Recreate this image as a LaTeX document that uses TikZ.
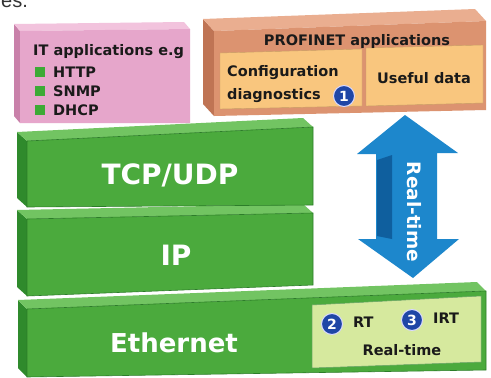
\documentclass[tikz,border=0pt]{standalone}
\usepackage{fontspec}
\setmainfont{DejaVu Sans}
\newfontfamily\capfont{Liberation Sans}
\usetikzlibrary{calc}
\definecolor{gfront}{HTML}{4BAA3D}
\definecolor{gtop}{HTML}{72C462}
\definecolor{gside}{HTML}{2F8A2C}
\definecolor{gedge}{HTML}{2C7D29}
\definecolor{subfill}{HTML}{D6E99E}
\definecolor{pfront}{HTML}{E6A6CB}
\definecolor{ptop}{HTML}{F2C3DD}
\definecolor{pside}{HTML}{C981AA}
\definecolor{ofront}{HTML}{DC9370}
\definecolor{otop}{HTML}{EAAE90}
\definecolor{oside}{HTML}{BF7454}
\definecolor{oinner}{HTML}{F9C67E}
\definecolor{ablue}{HTML}{1D87CC}
\definecolor{adark}{HTML}{0F5F9E}
\definecolor{numblue}{HTML}{1F46A6}
\definecolor{bulgreen}{HTML}{3DAA35}
\definecolor{txt}{HTML}{1A1A1A}
\newcommand\mkslab[5]{%
  \fill[#4] (#1tl) -- ($(#1tl)+(#5)$) -- ($(#1bl)+(#5)$) -- (#1bl) -- cycle;
  \fill[#3] (#1tl) -- ($(#1tl)+(#5)$) -- ($(#1tr)+(#5)$) -- (#1tr) -- cycle;
  \fill[#2] (#1tl) -- (#1tr) -- (#1br) -- (#1bl) -- cycle;
}
\tikzset{
  lbl/.style={font=\bfseries\fontsize{14.5}{17}\selectfont, text=txt, inner sep=0pt},
  big/.style={font=\bfseries\fontsize{28}{32}\selectfont, text=white, inner sep=0pt},
  num/.style={circle, fill=numblue, draw=white!85!blue, line width=1pt, minimum size=21pt,
    inner sep=0pt, text=white, font=\bfseries\fontsize{14}{14}\selectfont},
  bullet/.style={fill=bulgreen, minimum size=10pt, inner sep=0pt},
  inner box/.style={fill=#1, draw=#1!80!black, line width=0.4pt}
}
\begin{document}
\begin{tikzpicture}[x=1pt,y=-1pt]
\useasboundingbox (0,0) rectangle (491,378);
\fill[white] (0,0) rectangle (491,378);
\begin{scope}
  \clip (0,0) rectangle (491,378);
  \node[anchor=base west, inner sep=0pt, font=\capfont\fontsize{20}{20}\selectfont, text=black!80] (frag) at (1,7) {es.};
\end{scope}

% ---- pink box
\coordinate (ptl) at (20,31); \coordinate (ptr) at (190,29);
\coordinate (pbr) at (190,123); \coordinate (pbl) at (20,123);
\mkslab{p}{pfront}{ptop}{pside}{-6,-7}

% ---- orange box
\coordinate (otl) at (214,31); \coordinate (otr) at (486,21);
\coordinate (obr) at (486,110); \coordinate (obl) at (214,116);
\mkslab{o}{ofront}{otop}{oside}{-11,-12}
\filldraw[inner box=oinner] (220,53) -- (362,49) -- (362,106) -- (220,109) -- cycle;
\filldraw[inner box=oinner] (366,48) -- (483,45) -- (483,103) -- (366,106) -- cycle;

% ---- green slabs
\coordinate (etl) at (27,309); \coordinate (etr) at (486,291);
\coordinate (ebr) at (486,370); \coordinate (ebl) at (27,377);
\mkslab{e}{gfront}{gtop}{gside}{-9,-9}
\draw[gedge, line width=0.6pt] (etl) -- (etr) -- (ebr) -- (ebl) -- cycle;
\filldraw[fill=subfill, draw=gedge!70, line width=0.5pt] (312,305) -- (481,296) -- (481,362) -- (312,368) -- cycle;

\coordinate (itl) at (27,219); \coordinate (itr) at (313,213);
\coordinate (ibr) at (313,285); \coordinate (ibl) at (27,296);
\mkslab{i}{gfront}{gtop}{gside}{-10,-9}
\draw[gedge, line width=0.6pt] (itl) -- (itr) -- (ibr) -- (ibl) -- cycle;

\coordinate (ttl) at (27,141); \coordinate (ttr) at (313,127);
\coordinate (tbr) at (313,205); \coordinate (tbl) at (27,207);
\mkslab{t}{gfront}{gtop}{gside}{-10,-9}
\draw[gedge, line width=0.6pt] (ttl) -- (ttr) -- (tbr) -- (tbl) -- cycle;

% ---- blue double arrow
\fill[ablue] (405,115) -- (458,153) -- (437,153) -- (437,239) -- (459,239) -- (413,278)
  -- (358,239) -- (376,239) -- (376,154) -- (357,154) -- cycle;
\fill[adark] (377,160) -- (392,155) -- (392,239) -- (377,236) -- cycle;
\node[rotate=-90, inner sep=0pt, text=white, font=\bfseries\fontsize{18.5}{20}\selectfont] (rtv) at (414,212) {Real-time};

% ---- texts: IT applications
\node[lbl, anchor=base west] (ita) at (33,55) {IT applications e.g};
\node[bullet] (b1) at (40,72) {};
\node[bullet] (b2) at (40,91) {};
\node[bullet] (b3) at (40,110) {};
\node[lbl, anchor=base west] (http) at (53,77) {HTTP};
\node[lbl, anchor=base west] (snmp) at (53,96) {SNMP};
\node[lbl, anchor=base west] (dhcp) at (53,115) {DHCP};

% ---- PROFINET
\node[lbl, anchor=base] (pna) at (357,45) {PROFINET applications};
\node[lbl, anchor=base west] (conf) at (227,76) {Configuration};
\node[lbl, anchor=base west] (diag) at (227,99) {diagnostics};
\node[num] (n1) at (344,96) {1};
\node[lbl, anchor=base] (useful) at (424,83) {Useful data};

% ---- green labels
\node[big, anchor=base] (tcp) at (170,184) {TCP/UDP};
\node[big, anchor=base] (ip) at (176,265) {IP};
\node[big, anchor=base, font=\bfseries\fontsize{26}{30}\selectfont] (eth) at (174,352) {Ethernet};

% ---- real-time sub box
\node[num] (n2) at (332,324) {2};
\node[lbl, anchor=base west] (rt) at (353,327) {RT};
\node[num] (n3) at (412,320) {3};
\node[lbl, anchor=base west] (irt) at (433,323) {IRT};
\node[lbl, anchor=base] (rtl) at (402,355) {Real-time};
\end{tikzpicture}
\end{document}
